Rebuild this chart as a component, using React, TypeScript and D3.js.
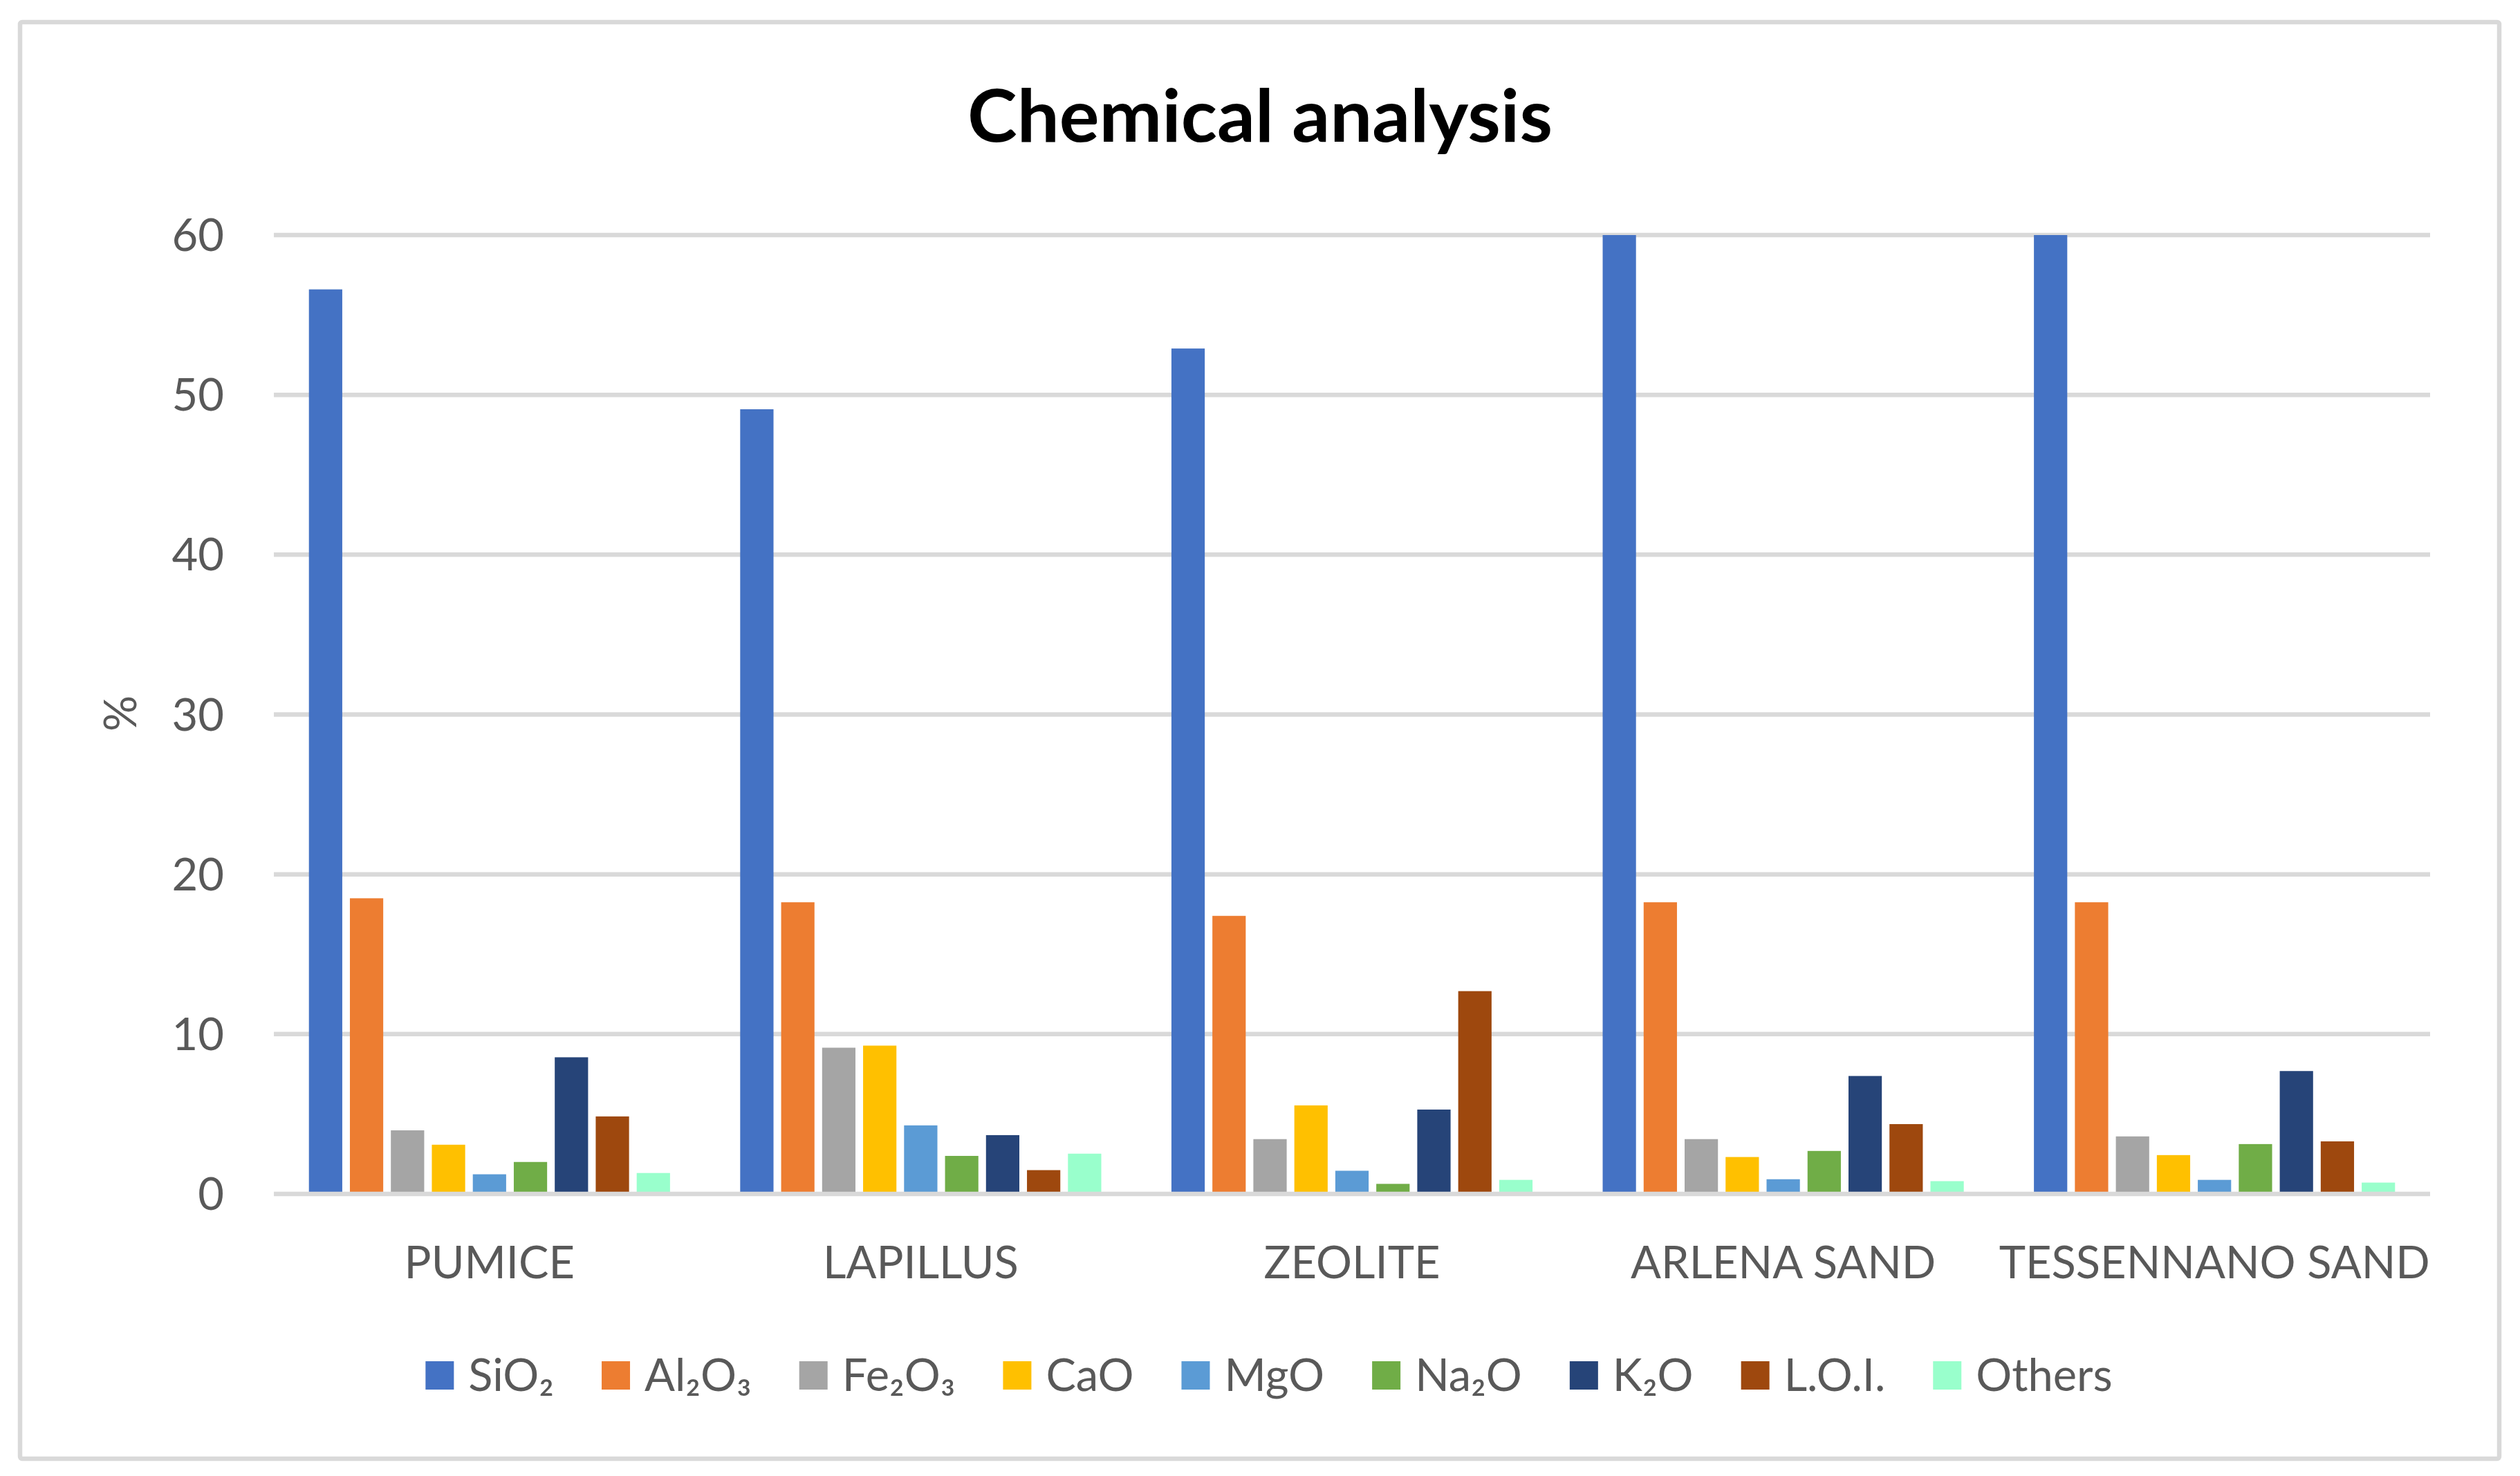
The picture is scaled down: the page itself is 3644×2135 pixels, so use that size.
import React, { useEffect, useRef } from "react";
import * as d3 from "d3";

// ---- data ----
const categories = ["PUMICE", "LAPILLUS", "ZEOLITE", "ARLENA SAND", "TESSENNANO SAND"];
const seriesNames = ["SiO₂", "Al₂O₃", "Fe₂O₃", "CaO", "MgO", "Na₂O", "K₂O", "L.O.I.", "Others"];
const seriesColors = ["#4472C4", "#ED7D31", "#A5A5A5", "#FFC000", "#5B9BD5", "#70AD47", "#264478", "#9E480E", "#99FFCC"];
const SiO2 = [56.6, 49.1, 52.9, 60, 60]; // last two reach the top of the axis
const Al2O3 = [18.5, 18.25, 17.4, 18.25, 18.25];
const Fe2O3 = [3.98, 9.15, 3.43, 3.43, 3.6];
const CaO = [3.08, 9.28, 5.54, 2.31, 2.43];
const MgO = [1.23, 4.29, 1.45, 0.92, 0.88];
const Na2O = [2.0, 2.38, 0.63, 2.69, 3.12];
const K2O = [8.55, 3.68, 5.28, 7.38, 7.69];
const LOI = [4.85, 1.49, 12.69, 4.37, 3.29];
const Others = [1.31, 2.52, 0.88, 0.8, 0.71];
const seriesValues = [SiO2, Al2O3, Fe2O3, CaO, MgO, Na2O, K2O, LOI, Others];
const yTicks = [0, 10, 20, 30, 40, 50, 60];
const titleText = "Chemical analysis";
const yTitle = "%";

const W = 3644;
const H = 2135;
const FONT = "Lato, 'Open Sans', 'Noto Sans', sans-serif";
const TXT = "#595959";
const GRID = "#D9D9D9";

export default function App() {
  const ref = useRef<SVGSVGElement | null>(null);

  useEffect(() => {
    document.body.style.margin = "0";
    const svg = d3.select(ref.current);
    svg.selectAll("*").remove();

    const left = 396, right = 3514, top = 340, bottom = 1727;

    const y = d3.scaleLinear().domain([0, 60]).range([bottom, top]);
    const x0 = d3.scaleBand<string>().domain(categories).range([left, right]).padding(0);
    const x1 = d3
      .scaleBand<string>()
      .domain(seriesNames)
      .range([0, x0.bandwidth()])
      .paddingInner(0.1865)
      .paddingOuter(0.856);

    svg.append("rect").attr("x", 0).attr("y", 0).attr("width", W).attr("height", H).attr("fill", "#fff");

    // chart border
    svg
      .append("rect")
      .attr("x", 29)
      .attr("y", 32)
      .attr("width", 3585)
      .attr("height", 2078)
      .attr("rx", 3)
      .attr("fill", "none")
      .attr("stroke", GRID)
      .attr("stroke-width", 6.5);

    // gridlines (behind bars)
    svg
      .append("g")
      .selectAll("line")
      .data(yTicks.filter((t) => t !== 0))
      .join("line")
      .attr("x1", left)
      .attr("x2", right)
      .attr("y1", (d) => y(d))
      .attr("y2", (d) => y(d))
      .attr("stroke", GRID)
      .attr("stroke-width", 6.5);

    // tick labels
    svg
      .append("g")
      .selectAll("text")
      .data(yTicks)
      .join("text")
      .attr("x", 324)
      .attr("y", (d) => y(d) + 23)
      .attr("text-anchor", "end")
      .attr("font-family", FONT)
      .attr("font-size", 65)
      .attr("fill", TXT)
      .text((d) => String(d));

    // bars
    const groups = svg
      .append("g")
      .selectAll("g")
      .data(categories)
      .join("g")
      .attr("transform", (d) => `translate(${x0(d)},0)`);

    groups
      .selectAll("rect")
      .data((_c, ci) => seriesNames.map((s, si) => ({ s, si, v: seriesValues[si][ci] })))
      .join("rect")
      .attr("x", (d) => x1(d.s) as number)
      .attr("width", x1.bandwidth())
      .attr("y", (d) => y(Math.min(d.v, 60)))
      .attr("height", (d) => y(0) - y(Math.min(d.v, 60)))
      .attr("fill", (d) => seriesColors[d.si]);

    // axis line on top
    svg
      .append("line")
      .attr("x1", left)
      .attr("x2", right)
      .attr("y1", y(0))
      .attr("y2", y(0))
      .attr("stroke", GRID)
      .attr("stroke-width", 6.5);

    // category labels
    svg
      .append("g")
      .selectAll("text")
      .data(categories)
      .join("text")
      .attr("x", (d) => (x0(d) as number) + x0.bandwidth() / 2)
      .attr("y", 1849)
      .attr("text-anchor", "middle")
      .attr("font-family", FONT)
      .attr("font-size", 65)
      .attr("fill", TXT)
      .text((d) => d);

    // title
    svg
      .append("text")
      .attr("x", 1822)
      .attr("y", 205)
      .attr("text-anchor", "middle")
      .attr("font-family", FONT)
      .attr("font-weight", 700)
      .attr("font-size", 106)
      .attr("fill", "#000")
      .attr("textLength", 846)
      .attr("lengthAdjust", "spacingAndGlyphs")
      .text(titleText);

    // y axis title
    svg
      .append("text")
      .attr("transform", `translate(197,1032) rotate(-90)`)
      .attr("text-anchor", "middle")
      .attr("font-family", FONT)
      .attr("font-size", 65)
      .attr("fill", TXT)
      .text(yTitle);

    // legend
    const lg = svg.append("g");
    let cx = 0;
    const sw = 41;
    seriesNames.forEach((name, i) => {
      lg.append("rect")
        .attr("x", cx)
        .attr("y", 1969)
        .attr("width", sw)
        .attr("height", sw)
        .attr("fill", seriesColors[i]);
      const t = lg
        .append("text")
        .attr("x", cx + 62)
        .attr("y", 2012)
        .attr("font-family", FONT)
        .attr("font-size", 65)
        .attr("fill", TXT)
        .text(name);
      const tw = (t.node() as SVGTextElement).getComputedTextLength();
      cx = cx + 62 + tw + (i < seriesNames.length - 1 ? 69 : 0);
    });
    const total = cx;
    lg.attr("transform", `translate(${1835 - total / 2},0)`);
  }, []);

  return (
    <svg
      ref={ref}
      width={W}
      height={H}
      viewBox={`0 0 ${W} ${H}`}
      style={{ position: "absolute", left: 0, top: 0, display: "block" }}
    />
  );
}
